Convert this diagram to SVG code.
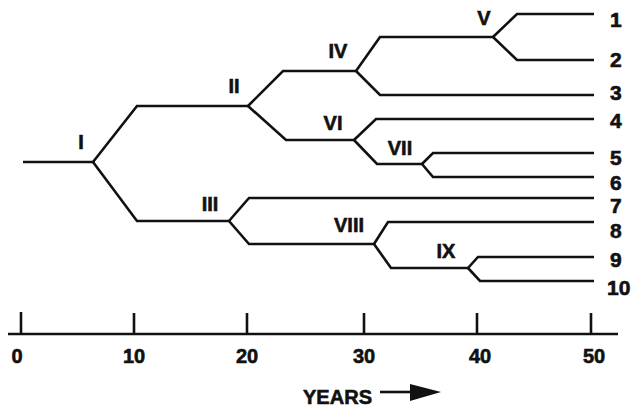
<svg xmlns="http://www.w3.org/2000/svg" width="635" height="410" viewBox="0 0 635 410">
<defs>
<style>
.ln{fill:none;stroke:#111;stroke-width:2.6;stroke-linejoin:miter;stroke-linecap:butt}
.lab{font-family:"Liberation Sans",Arial,sans-serif;font-weight:bold;font-size:20px;fill:#111;stroke:#111;stroke-width:0.6;text-anchor:middle}
.num{font-family:"Liberation Sans",Arial,sans-serif;font-weight:bold;font-size:21px;fill:#111;stroke:#111;stroke-width:0.6}
.tick{font-family:"Liberation Sans",Arial,sans-serif;font-weight:bold;font-size:20px;fill:#111;stroke:#111;stroke-width:0.6;text-anchor:middle}
</style>
</defs>
<rect width="635" height="410" fill="#fff"/>
<g id="connectors" class="ln">
<path d="M23,162 H93"/>
<path d="M93,162 L137,106 H248"/>
<path d="M93,162 L137,221 H229"/>
<path d="M248,106 L283,71 H356"/>
<path d="M248,106 L286,140 H354"/>
<path d="M356,71 L380,37 H493"/>
<path d="M356,71 L380,95 H594"/>
<path d="M493,37 L517,14 H594"/>
<path d="M493,37 L517,60 H594"/>
<path d="M354,140 L376,119 H594"/>
<path d="M354,140 L377,164 H422"/>
<path d="M422,164 L433,153 H594"/>
<path d="M422,164 L433,177 H594"/>
<path d="M229,221 L249,198 H594"/>
<path d="M229,221 L249,244 H374"/>
<path d="M374,244 L388,222 H594"/>
<path d="M374,244 L391,268 H468"/>
<path d="M468,268 L478,257 H594"/>
<path d="M468,268 L480,281 H594"/>
</g>
<g id="node-I"><text class="lab" x="81" y="149">I</text></g>
<g id="node-II"><text class="lab" x="234" y="93">II</text></g>
<g id="node-III"><text class="lab" x="210" y="211">III</text></g>
<g id="node-IV"><text class="lab" x="338" y="58">IV</text></g>
<g id="node-V"><text class="lab" x="484" y="25">V</text></g>
<g id="node-VI"><text class="lab" x="333" y="130">VI</text></g>
<g id="node-VII"><text class="lab" x="400" y="155">VII</text></g>
<g id="node-VIII"><text class="lab" x="349" y="232">VIII</text></g>
<g id="node-IX"><text class="lab" x="446" y="258">IX</text></g>
<g id="leaves">
<text class="num" x="610" y="27">1</text>
<text class="num" x="610" y="67">2</text>
<text class="num" x="610" y="100">3</text>
<text class="num" x="610" y="128">4</text>
<text class="num" x="610" y="165">5</text>
<text class="num" x="610" y="190">6</text>
<text class="num" x="610" y="213">7</text>
<text class="num" x="610" y="238">8</text>
<text class="num" x="610" y="267">9</text>
<text class="num" x="607" y="295">10</text>
</g>
<g id="axis">
<path class="ln" d="M8,334 H618 M21,312 V334 M134,313 V334 M247,313 V334 M364,313 V334 M477,313 V334 M591,313 V334"/>
<text class="tick" x="17" y="363">0</text>
<text class="tick" x="134" y="363">10</text>
<text class="tick" x="247" y="363">20</text>
<text class="tick" x="364" y="363">30</text>
<text class="tick" x="480" y="363">40</text>
<text class="tick" x="594" y="363">50</text>
<text class="num" x="303" y="404" textLength="69" lengthAdjust="spacingAndGlyphs" style="font-size:20px">YEARS</text>
<path d="M380,392 H412" stroke="#111" stroke-width="2.6" fill="none"/>
<path d="M410,384 L441,392 L410,401 z" fill="#111"/>
</g>
</svg>
